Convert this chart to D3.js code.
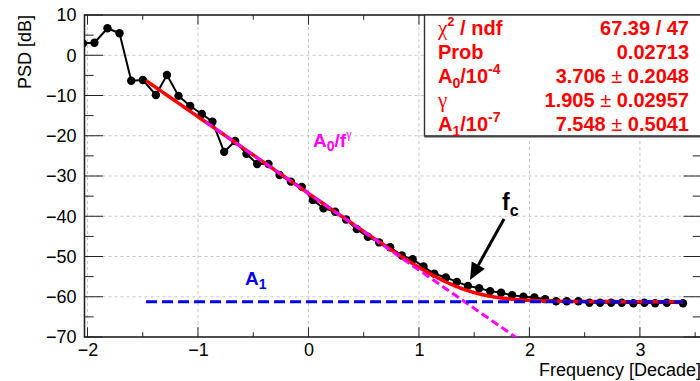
<!DOCTYPE html>
<html><head><meta charset="utf-8">
<script src="https://cdn.jsdelivr.net/npm/d3@7"></script>
<style>
html,body{margin:0;padding:0;background:#fff;overflow:hidden}
text{font-family:"Liberation Sans",Arial,sans-serif}
</style></head>
<body><svg id="c" width="700" height="381"></svg>
<script>
// ---- data ----
const freqDecade = [-2.04, -1.937, -1.819, -1.71, -1.604, -1.499, -1.381, -1.281, -1.176, -1.07, -0.965, -0.869, -0.763, -0.663, -0.561, -0.464, -0.362, -0.262, -0.159, -0.06, 0.04, 0.136, 0.242, 0.341, 0.438, 0.538, 0.64, 0.739, 0.845, 0.943, 1.041, 1.139, 1.243, 1.343, 1.443, 1.545, 1.644, 1.744, 1.843, 1.946, 2.045, 2.142, 2.242, 2.338, 2.443, 2.543, 2.64, 2.74, 2.836, 2.941, 3.041, 3.138, 3.243, 3.39];
const psdDb = [2.95, 3.12, 6.70, 5.45, -6.32, -6.15, -9.88, -4.91, -10.1, -12.6, -14.6, -16.5, -24.0, -21.3, -24.5, -27.0, -27.0, -29.75, -31.4, -32.7, -36.0, -38.0, -38.9, -40.8, -43.2, -45.1, -46.5, -47.7, -49.75, -50.7, -52.5, -54.3, -55.2, -56.3, -57.3, -57.9, -58.6, -59.0, -59.6, -60.0, -60.2, -60.6, -61.1, -61.1, -61.1, -61.5, -61.5, -61.5, -61.5, -61.6, -61.5, -61.6, -61.5, -61.6];
const fitParams = {A0: 3.706e-4, gamma: 1.905, A1: 7.548e-7};
const fitRange = [-1.47, 3.39];
const powerLawRange = [-0.93, 2.0];
const xTickValues = [-2, -1, 0, 1, 2, 3];
const yTickValues = [10, 0, -10, -20, -30, -40, -50, -60, -70];
const statLabels = ["chi2", "Prob", "A0", "gamma", "A1"];
const statValues = ["67.39 / 47", "0.02713", "3.706 ± 0.2048", "1.905 ± 0.02957", "7.548 ± 0.5041"];

// ---- layout ----
const L = 84.5, R = 702, T = 15, B = 337;
const svg = d3.select("#c");
const x = d3.scaleLinear().domain([-2.027, 3.562]).range([L, R]);
const y = d3.scaleLinear().domain([-70, 10]).range([B, T]);

svg.append("defs").append("clipPath").attr("id","clip")
  .append("rect").attr("x",L).attr("y",T).attr("width",R-L).attr("height",B-T);

// grid
const grid = svg.append("g").attr("stroke","#c4c4c4").attr("stroke-width",1).attr("stroke-dasharray","3,3");
xTickValues.forEach(v=>grid.append("line").attr("x1",x(v)).attr("x2",x(v)).attr("y1",T).attr("y2",B));
yTickValues.filter(v=>v>-70&&v<10).forEach(v=>grid.append("line").attr("x1",L).attr("x2",R).attr("y1",y(v)).attr("y2",y(v)));

// ROOT style ticks on all four sides
const tk = svg.append("g").attr("stroke","#222").attr("stroke-width",1);
d3.range(-2, 3.6, 0.5).forEach(v=>{
  const major = Math.abs(v-Math.round(v))<1e-6;
  const len = major?9.7:4.8;
  tk.append("line").attr("x1",x(v)).attr("x2",x(v)).attr("y1",B).attr("y2",B-len);
  tk.append("line").attr("x1",x(v)).attr("x2",x(v)).attr("y1",T).attr("y2",T+len);
});
d3.range(-70, 10.1, 5).forEach(v=>{
  const major = v%10===0;
  const len = major?18.5:9.2;
  tk.append("line").attr("x1",L).attr("x2",L+len).attr("y1",y(v)).attr("y2",y(v));
  tk.append("line").attr("x1",R).attr("x2",R-len).attr("y1",y(v)).attr("y2",y(v));
});
// tick labels via d3 axes
const fmt = d=> d<0 ? "\u2212"+Math.abs(d) : String(d);
const xa = svg.append("g").attr("transform",`translate(0,${B})`)
  .call(d3.axisBottom(x).tickValues(xTickValues).tickSize(0).tickPadding(6).tickFormat(fmt));
xa.select(".domain").remove();
xa.selectAll("text").attr("font-size",18).attr("fill","#000").attr("font-family","Liberation Sans, Arial, sans-serif");
const ya = svg.append("g").attr("transform",`translate(${L},0)`)
  .call(d3.axisLeft(y).tickValues(yTickValues).tickSize(0).tickPadding(8).tickFormat(fmt));
ya.select(".domain").remove();
ya.selectAll("text").attr("font-size",18).attr("fill","#000").attr("font-family","Liberation Sans, Arial, sans-serif");

// frame
svg.append("rect").attr("x",L).attr("y",T).attr("width",R-L).attr("height",B-T)
  .attr("fill","none").attr("stroke","#222").attr("stroke-width",1.6);

// axis titles
svg.append("text").attr("transform",`translate(31,${T}) rotate(-90)`).attr("text-anchor","end")
  .attr("font-size",18).text("PSD [dB]");
svg.append("text").attr("x",701).attr("y",376).attr("text-anchor","end").attr("font-size",18).text("Frequency [Decade]");

const plot = svg.append("g").attr("clip-path","url(#clip)");

// data graph
const line = d3.line().x((d,i)=>x(freqDecade[i])).y(d=>y(d));
plot.append("path").attr("d",line(psdDb)).attr("fill","none").attr("stroke","#000").attr("stroke-width",2);
plot.selectAll("circle.pt").data(psdDb).enter().append("circle")
  .attr("cx",(d,i)=>x(freqDecade[i])).attr("cy",d=>y(d)).attr("r",4.2).attr("fill","#000");

// fit function (from the fitted parameters)
const fitDb = f => 10*Math.log10(fitParams.A0*Math.pow(10,-fitParams.gamma*f) + fitParams.A1);
const plDb = f => 10*Math.log10(fitParams.A0*Math.pow(10,-fitParams.gamma*f));
const fitX = d3.range(fitRange[0], fitRange[1]+1e-9, 0.01);
const fl = d3.line().x(d=>x(d)).y(d=>y(fitDb(d)));
plot.append("path").attr("d",fl(fitX)).attr("fill","none").attr("stroke","#ff0000").attr("stroke-width",3.5);

// power law component
const plX = d3.range(powerLawRange[0], powerLawRange[1]+1e-9, 0.01);
const pl = d3.line().x(d=>x(d)).y(d=>y(plDb(d)));
plot.append("path").attr("d",pl(plX)).attr("fill","none").attr("stroke","#ff00ff").attr("stroke-width",3).attr("stroke-dasharray","8,4");

// constant component
plot.append("line").attr("x1",x(fitRange[0])).attr("x2",x(fitRange[1]))
  .attr("y1",y(10*Math.log10(fitParams.A1))).attr("y2",y(10*Math.log10(fitParams.A1)))
  .attr("stroke","#0000ee").attr("stroke-width",3).attr("stroke-dasharray","11,5");

// annotations
const a0 = svg.append("text").attr("x",313).attr("y",146.5).attr("font-size",19).attr("font-weight","bold").attr("fill","#ff00ff");
a0.append("tspan").text("A");
a0.append("tspan").attr("font-size",14).attr("dy",4).text("0");
a0.append("tspan").attr("dy",-4).text("/f");
a0.append("tspan").attr("font-size",12).attr("font-weight","normal").attr("font-family","Liberation Serif, serif").attr("dy",-9).text("γ");

const a1 = svg.append("text").attr("x",245).attr("y",285).attr("font-size",19).attr("font-weight","bold").attr("fill","#0000ee");
a1.append("tspan").text("A");
a1.append("tspan").attr("font-size",14).attr("dy",4).text("1");

const fc = svg.append("text").attr("x",502).attr("y",210).attr("font-size",23).attr("font-weight","bold").attr("fill","#000");
fc.append("tspan").text("f");
fc.append("tspan").attr("font-size",16).attr("dy",6).text("c");

// arrow
const ax0=504, ay0=219, ax1=470, ay1=280;
const dx=ax1-ax0, dy=ay1-ay0, len=Math.hypot(dx,dy), ux=dx/len, uy=dy/len;
const hl=17, hw=7.5;
svg.append("line").attr("x1",ax0).attr("y1",ay0).attr("x2",ax1-ux*hl).attr("y2",ay1-uy*hl).attr("stroke","#000").attr("stroke-width",3);
svg.append("path").attr("d",`M${ax1},${ay1}L${ax1-ux*hl-uy*hw},${ay1-uy*hl+ux*hw}L${ax1-ux*hl+uy*hw},${ay1-uy*hl-ux*hw}Z`).attr("fill","#000");

// stats box
svg.append("rect").attr("x",424.5).attr("y",15).attr("width",290).attr("height",121)
  .attr("fill","#fff").attr("stroke","#333").attr("stroke-width",1.4);
svg.append("line").attr("x1",424.5).attr("x2",702).attr("y1",136.5).attr("y2",136.5).attr("stroke","#444").attr("stroke-width",2);
const baselines = [35, 59.3, 83.3, 107.3, 131];
const st = svg.append("g").attr("fill","#ff0000").attr("font-size",20).attr("font-weight","bold");
statLabels.forEach((lab,i)=>{
  const t = st.append("text").attr("x",438).attr("y",baselines[i]);
  if(lab==="chi2"){
    t.append("tspan").attr("font-family","Liberation Serif, serif").attr("font-weight","normal").attr("font-size",21).text("χ");
    t.append("tspan").attr("font-size",13).attr("dy",-9).text("2");
    t.append("tspan").attr("dy",9).text(" / ndf");
  } else if(lab==="A0"){
    t.append("tspan").text("A");
    t.append("tspan").attr("font-size",14).attr("dy",5).text("0");
    t.append("tspan").attr("dy",-5).text("/10");
    t.append("tspan").attr("font-size",14).attr("dy",-9).text("-4");
  } else if(lab==="gamma"){
    t.append("tspan").attr("font-family","Liberation Serif, serif").attr("font-weight","normal").attr("font-size",21).text("γ");
  } else if(lab==="A1"){
    t.append("tspan").text("A");
    t.append("tspan").attr("font-size",14).attr("dy",5).text("1");
    t.append("tspan").attr("dy",-5).text("/10");
    t.append("tspan").attr("font-size",14).attr("dy",-9).text("-7");
  } else {
    t.text(lab);
  }
  const v = statValues[i];
  const tv = st.append("text").attr("x",689).attr("y",baselines[i]).attr("text-anchor","end");
  if(v.includes("±")){
    const parts = v.split("±");
    tv.append("tspan").text(parts[0]);
    tv.append("tspan").attr("font-weight","normal").text("±");
    tv.append("tspan").text(parts[1]);
  } else tv.text(v);
});
</script></body></html>
